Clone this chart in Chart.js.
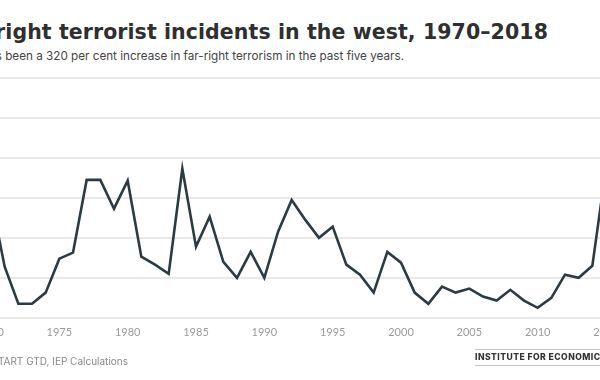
<!DOCTYPE html>
<html>
<head>
<meta charset="utf-8">
<script src="https://cdn.jsdelivr.net/npm/chart.js@4/dist/chart.umd.min.js"></script>
<style>
  html, body { margin: 0; padding: 0; background: #fff; }
  #wrap { position: relative; width: 600px; height: 380px; overflow: hidden; background: #fff; }
  #title { position: absolute; right: 52px; top: 20px; white-space: nowrap;
           font: 700 20.5px "DejaVu Sans", sans-serif; color: #2f2f2f; letter-spacing: 0.08px; line-height: 24px; }
  #sub { position: absolute; right: 196px; top: 49px; white-space: nowrap;
         font: 400 11.7px Inter, sans-serif; color: #444; }
  #box { position: absolute; left: -49px; top: 70px; width: 736px; height: 288px; }
  #source { position: absolute; right: 472px; top: 355px; white-space: nowrap;
            font: 400 10px Inter, sans-serif; color: #8a8a8a; }
  #logo { position: absolute; left: 475px; top: 349px; white-space: nowrap;
          font: 800 8.6px Inter, sans-serif; color: #333; letter-spacing: 0.45px; line-height: 11px;
          border-top: 1px solid #c8c8c8; border-bottom: 1px solid #c8c8c8; padding: 2px 0 2px 0; }
</style>
</head>
<body>
<div id="wrap">
  <div id="title">Far-right terrorist incidents in the west, 1970–2018</div>
  <div id="sub">There has been a 320 per cent increase in far-right terrorism in the past five years.</div>
  <div id="box"><canvas id="chart"></canvas></div>
  <div id="source">Source: START GTD, IEP Calculations</div>
  <div id="logo">INSTITUTE FOR ECONOMICS &amp; PEACE</div>
</div>
<script>
// --- data ---
const years = [1970, 1971, 1972, 1973, 1974, 1975, 1976, 1977, 1978, 1979,
               1980, 1981, 1982, 1983, 1984, 1985, 1986, 1987, 1988, 1989,
               1990, 1991, 1992, 1993, 1994, 1995, 1996, 1997, 1998, 1999,
               2000, 2001, 2002, 2003, 2004, 2005, 2006, 2007, 2008, 2009,
               2010, 2011, 2012, 2013, 2014, 2015, 2016, 2017, 2018];
const incidents = [30, 12.8, 3.5, 3.5, 6.3, 14.8, 16.3, 34.5, 34.5, 27.3,
                   34.3, 15.3, 13.3, 11, 37.3, 17.8, 25.3, 14, 10, 16.5,
                   10, 21.5, 29.5, 24.5, 20, 22.8, 13.3, 10.8, 6.3, 16.5,
                   13.8, 6.3, 3.5, 7.8, 6.3, 7.3, 5.3, 4.3, 7, 4.3,
                   2.5, 5, 10.8, 10, 13, 37.5, 45, 38, 42];
const xTickYears = [1970, 1975, 1980, 1985, 1990, 1995, 2000, 2005, 2010, 2015];
const yTickValues = [0, 10, 20, 30, 40, 50, 60];

const ctx = document.getElementById('chart');
new Chart(ctx, {
    type: 'line',
    data: {
        datasets: [{
            data: years.map((y, i) => ({ x: y, y: incidents[i] })),
            borderColor: '#2c3b42',
            borderWidth: 2.6,
            pointRadius: 0,
            tension: 0,
            fill: false
        }]
    },
    options: {
        responsive: true,
        maintainAspectRatio: false,
        animation: false,
        layout: { padding: { left: 40, right: 40, top: 8, bottom: 11 } },
        plugins: { legend: { display: false }, tooltip: { enabled: false } },
        scales: {
            x: {
                type: 'linear',
                min: 1970,
                max: 2018,
                afterBuildTicks: axis => { axis.ticks = xTickYears.map(v => ({ value: v })); },
                grid: { display: false, drawTicks: false },
                border: { display: false },
                ticks: {
                    padding: 8,
                    color: '#9b9b9b',
                    font: { family: 'Lato, sans-serif', size: 11 },
                    callback: v => String(v)
                }
            },
            y: {
                min: 0,
                max: 60,
                afterBuildTicks: axis => { axis.ticks = yTickValues.map(v => ({ value: v })); },
                grid: { color: '#e9e9e9', lineWidth: 2, drawTicks: false },
                border: { display: false },
                ticks: { display: false }
            }
        }
    }
});
</script>
</body>
</html>
